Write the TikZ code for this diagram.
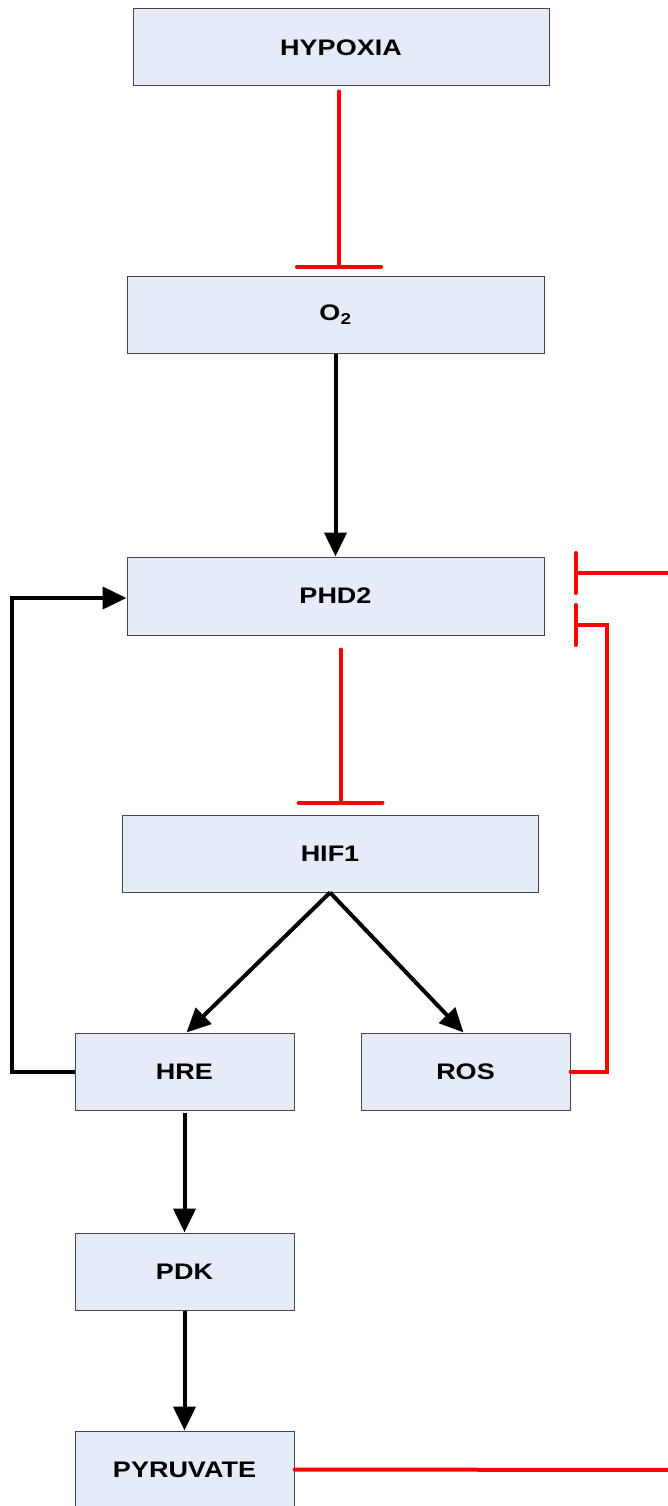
\documentclass[tikz,border=0pt]{standalone}
\usepackage{fontspec}
\newfontfamily\labfont[FakeStretch=1.2]{Liberation Sans}
\usetikzlibrary{arrows.meta,calc}
\definecolor{boxfill}{RGB}{230,236,247}
\definecolor{boxline}{RGB}{70,70,70}
\definecolor{inhred}{RGB}{255,0,0}
\tikzset{
  box/.style={draw=boxline,line width=1pt,fill=boxfill,rectangle,inner sep=0pt,
    font=\labfont\bfseries\fontsize{22.5}{22.5}\selectfont},
  act/.style={draw=black,line width=4pt,-{Triangle[length=24pt,width=22pt]}},
  inh/.style={draw=inhred,line width=4pt,line cap=round},
}
\begin{document}
\begin{tikzpicture}[x=1pt,y=-1pt]
\path[use as bounding box,clip] (0,0) rectangle (668,1506);
\node[box,minimum width=416pt,minimum height=77pt] (hyp) at (341,47.5) {HYPOXIA};
\node[box,minimum width=417pt,minimum height=77pt] (o2) at (335.5,314.5) {O\textsubscript{2}};
\node[box,minimum width=417pt,minimum height=78pt] (phd) at (335.5,596) {PHD2};
\node[box,minimum width=416pt,minimum height=77pt] (hif) at (330,853.5) {HIF1};
\node[box,minimum width=219pt,minimum height=77pt] (hre) at (184.5,1071.5) {HRE};
\node[box,minimum width=209pt,minimum height=77pt] (ros) at (465.5,1071.5) {ROS};
\node[box,minimum width=219pt,minimum height=77pt] (pdk) at (184.5,1271.5) {PDK};
\node[box,minimum width=219pt,minimum height=77pt] (pyr) at (184.5,1469.5) {PYRUVATE};
\coordinate (edgeA) at (690,573);
\coordinate (edgeB) at (690,1470);
\coordinate (i1s) at ($(hyp.south)+(-2,5)$);
\coordinate (i2s) at ($(phd.south)+(5,14)$);
% inhibitions
\draw[inh,-{Bar[width=84pt,round]}] (i1s) -- (i1s |- {$(o2.north)+(0,-7)$});
\draw[inh,-{Bar[width=84pt,round]}] (i2s) -- (i2s |- {$(hif.north)+(0,-10)$});
\draw[inh,-{Bar[width=40pt,round]}] (edgeA) -- ($(phd.east)+(29,-23)$);
\draw[inh,-{Bar[width=40pt,round]}] (ros.east) -- ++(36,0) |- ($(phd.east)+(29,29)$);
\draw[inh] (pyr.east) -- (edgeB);
% activations
\draw[act] (o2.south) -- (phd.north);
\draw[act] (hif.south) -- ($(hre.north)+(2,0)$);
\draw[act] (hif.south) -- ($(ros.north)+(-2,0)$);
\draw[act] (hre.west) -- ++(-63,0) |- ($(phd.west)+(0,2)$);
\draw[act] ($(hre.south)+(0,2)$) -- (pdk.north);
\draw[act] (pdk.south) -- (pyr.north);
\end{tikzpicture}
\end{document}
